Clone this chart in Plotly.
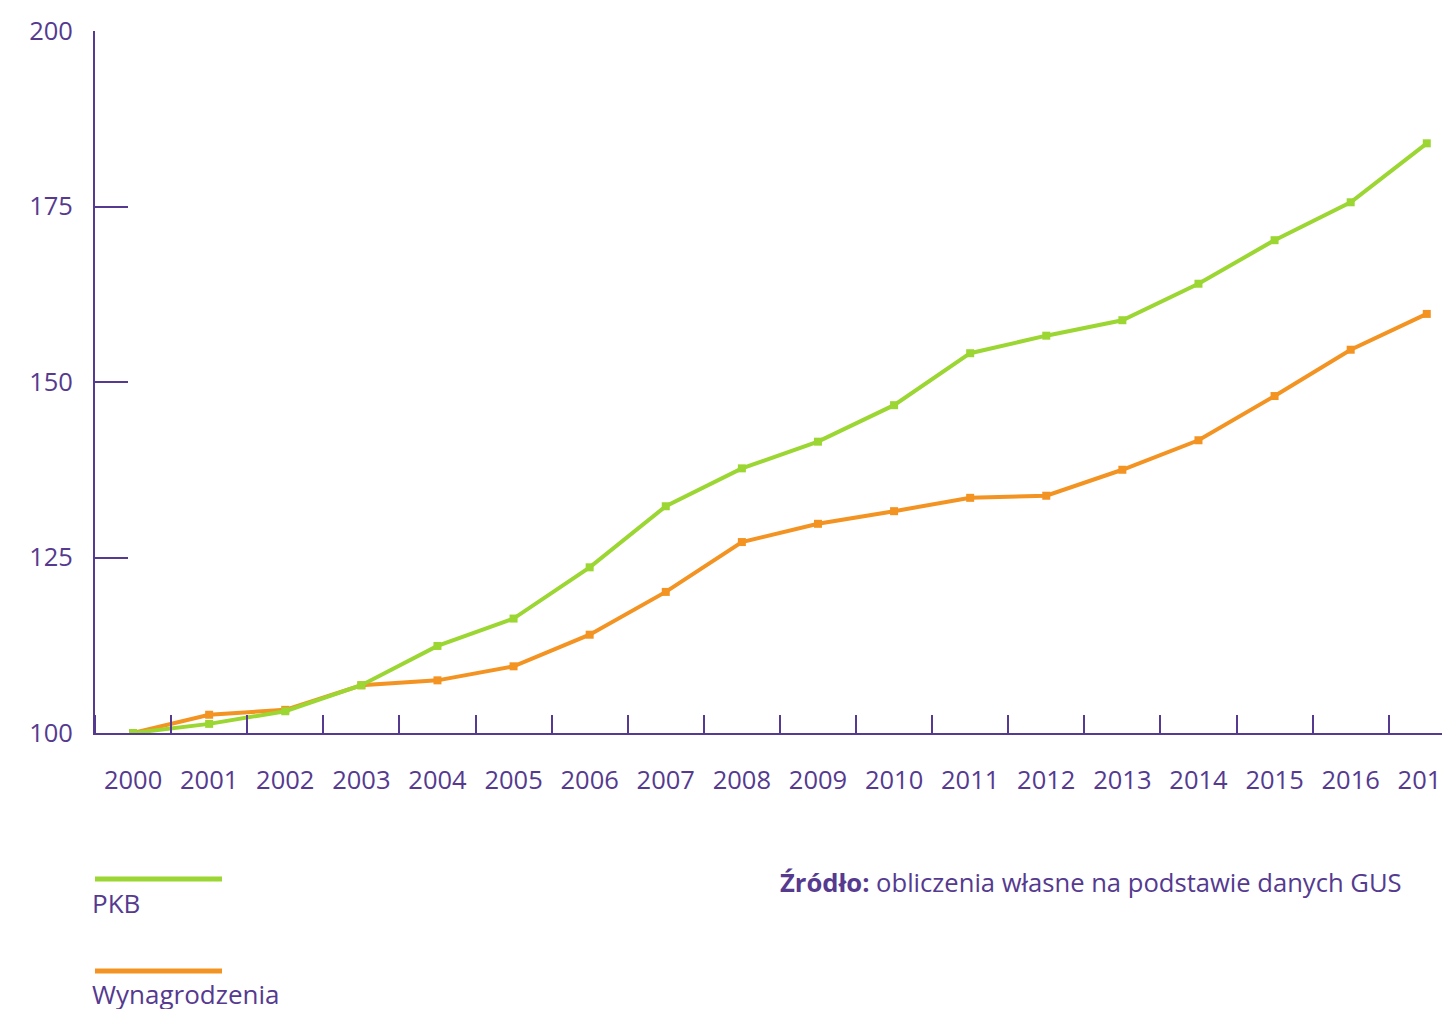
import plotly.graph_objects as go

years = list(range(2000, 2018))
pkb = [100, 101.3, 103.1, 106.8, 112.4, 116.3, 123.6, 132.3, 137.7, 141.5,
       146.7, 154.1, 156.6, 158.8, 164.0, 170.2, 175.6, 184.0]
wyn = [100, 102.6, 103.3, 106.8, 107.5, 109.5, 114.0, 120.1, 127.2, 129.8,
       131.6, 133.5, 133.8, 137.5, 141.7, 148.0, 154.6, 159.7]
y_ticks = [100, 125, 150, 175, 200]

PURPLE = "#553a8f"
GREEN = "#9bd632"
ORANGE = "#f39322"
FONT = "Open Sans"

fig = go.Figure()
fig.add_trace(go.Scatter(x=years, y=wyn, mode="lines+markers", name="Wynagrodzenia",
                         line=dict(color=ORANGE, width=4),
                         marker=dict(symbol="square", size=8, color=ORANGE)))
fig.add_trace(go.Scatter(x=years, y=pkb, mode="lines+markers", name="PKB",
                         line=dict(color=GREEN, width=4),
                         marker=dict(symbol="square", size=8, color=GREEN)))

fig.update_layout(
    width=1442, height=1009,
    margin=dict(l=95, r=0, t=31, b=276, autoexpand=False),
    paper_bgcolor="white", plot_bgcolor="white",
    showlegend=False,
    font=dict(family=FONT, color=PURPLE),
)
fig.update_xaxes(
    range=[1999.5, 2017.2],
    automargin=False,
    tickmode="array", tickvals=years, ticktext=[str(y) for y in years],
    ticks="", showgrid=False, zeroline=False,
    showline=True, linecolor=PURPLE, linewidth=2,
    tickfont=dict(size=25.5, color=PURPLE, family=FONT),
    ticklabelstandoff=23,
    ticklabeloverflow="allow",
    minor=dict(tick0=2000.5, dtick=1, ticks="inside", ticklen=18,
               tickwidth=2, tickcolor=PURPLE, showgrid=False),
)
fig.update_yaxes(
    range=[100, 200],
    automargin=False,
    tickmode="array", tickvals=y_ticks,
    ticks="inside", ticklen=33, tickwidth=2, tickcolor=PURPLE,
    showgrid=False, zeroline=False,
    showline=True, linecolor=PURPLE, linewidth=2,
    tickfont=dict(size=25.5, color=PURPLE, family=FONT),
    ticklabelstandoff=15,
)

H = 702.0  # plot height px
def py(pix):
    return (733 - pix) / H

W = 1347.0
def px(pix):
    return (pix - 95) / W

fig.add_shape(type="line", xref="paper", yref="paper",
              x0=px(95), x1=px(222), y0=py(879), y1=py(879),
              line=dict(color=GREEN, width=5))
fig.add_shape(type="line", xref="paper", yref="paper",
              x0=px(95), x1=px(222), y0=py(971), y1=py(971),
              line=dict(color=ORANGE, width=5))
fig.add_annotation(xref="paper", yref="paper", x=px(90), y=py(903),
                   xanchor="left", yanchor="middle", showarrow=False,
                   text="PKB", font=dict(size=26, color=PURPLE, family=FONT))
fig.add_annotation(xref="paper", yref="paper", x=px(90), y=py(994),
                   xanchor="left", yanchor="middle", showarrow=False,
                   text="Wynagrodzenia", font=dict(size=26, color=PURPLE, family=FONT))
fig.add_annotation(xref="paper", yref="paper", x=px(1404), y=py(883),
                   xanchor="right", yanchor="middle", showarrow=False,
                   text="<b>Źródło:</b> obliczenia własne na podstawie danych GUS",
                   font=dict(size=25.6, color=PURPLE, family=FONT))

fig.write_html("out.html")
